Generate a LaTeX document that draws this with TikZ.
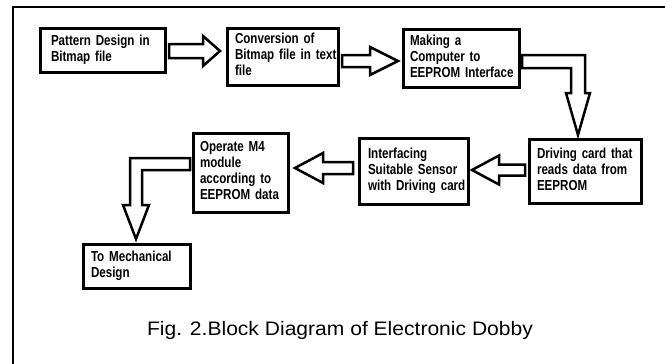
\documentclass[tikz,border=0pt]{standalone}
\usepackage{fontspec}
\setmainfont{Liberation Sans}
\newfontfamily\boxfont[FakeStretch=0.80]{Liberation Sans}
\newfontfamily\capfont[FakeStretch=1.08]{Liberation Sans}
\usetikzlibrary{calc}
\newcommand\rarr[8]{% from, to, ycenter, gapstart, gaptip, shafthalf, headhalf, headlen
  \draw[blk] let \p1=(#1.east),\p2=(#2.west) in
    (\x1+#4pt,{-#3pt+#6pt}) -- (\x2-#5pt-#8pt,{-#3pt+#6pt}) -- (\x2-#5pt-#8pt,{-#3pt+#7pt})
    -- (\x2-#5pt,-#3pt) -- (\x2-#5pt-#8pt,{-#3pt-#7pt}) -- (\x2-#5pt-#8pt,{-#3pt-#6pt})
    -- (\x1+#4pt,{-#3pt-#6pt}) -- cycle;}
\newcommand\larr[8]{% from, to, ycenter, gapstart, gaptip, shafthalf, headhalf, headlen
  \draw[blk] let \p1=(#1.west),\p2=(#2.east) in
    (\x1-#4pt,{-#3pt+#6pt}) -- (\x2+#5pt+#8pt,{-#3pt+#6pt}) -- (\x2+#5pt+#8pt,{-#3pt+#7pt})
    -- (\x2+#5pt,-#3pt) -- (\x2+#5pt+#8pt,{-#3pt-#7pt}) -- (\x2+#5pt+#8pt,{-#3pt-#6pt})
    -- (\x1-#4pt,{-#3pt-#6pt}) -- cycle;}
\newcommand\boxtext[1]{\begin{tabular}{@{}l@{}}#1\end{tabular}}
\begin{document}
\begin{tikzpicture}[x=1pt,y=-1pt,
  box/.style={draw, line width=3pt, outer sep=0pt, anchor=north west,
    font=\boxfont\bfseries\fontsize{14.5}{16}\selectfont, align=left,
    inner xsep=8pt, inner ysep=0pt},
  blk/.style={draw, line width=2.5pt, fill=white, line join=miter}]
\useasboundingbox (0,0) rectangle (665,364);
\fill[white] (0,0) rectangle (665,364);
\begin{scope}
\clip (0,0) rectangle (665,364);
\draw[line width=2pt] (13,7) rectangle (690,390);
\end{scope}
\node[box, inner xsep=11pt, text width=103pt, minimum height=44pt] (b1) at (40,28) {\boxtext{Pattern Design in\\Bitmap file}};
\node[box, text width=95pt, minimum height=57pt] (b2) at (227,28) {\boxtext{Conversion of\\Bitmap file in text\\file}};
\node[box, inner xsep=7pt, text width=102pt, minimum height=58pt] (b3) at (403,29) {\boxtext{Making a\\Computer to\\EEPROM Interface}};
\node[box, text width=96pt, minimum height=64pt] (b4) at (529,139) {\boxtext{Driving card that\\reads data from\\EEPROM}};
\node[box, inner xsep=9pt, text width=91pt, minimum height=66pt] (b5) at (359,138) {\boxtext{Interfacing\\Suitable Sensor\\with Driving card}};
\node[box, inner xsep=7pt, text width=81pt, minimum height=79pt] (b6) at (193,133) {\boxtext{Operate M4\\module\\according to\\EEPROM data}};
\node[box, text width=91pt, minimum height=44pt] (b7) at (83,244) {\boxtext{To Mechanical\\Design}};
\rarr{b1}{b2}{51}{4}{7}{7}{15}{17}
\rarr{b2}{b3}{61}{4}{5}{6}{14}{28}
\draw[blk] let \p1=(b3.east),\p2=(b4.north) in
  (\x1+3pt,-55pt) -- (585pt,-55pt) -- (585pt,-93pt) -- (590pt,-93pt) -- (578pt,\y2+4pt)
  -- (566pt,-93pt) -- (571pt,-93pt) -- (571pt,-68pt) -- (\x1+3pt,-68pt) -- cycle;
\larr{b4}{b5}{170}{4}{4}{5.5}{14.5}{27}
\larr{b5}{b6}{168}{6}{7}{6}{15}{28}
\draw[blk] let \p1=(b6.west),\p2=(b7.north) in
  (\x1-3pt,-158pt) -- (130pt,-158pt) -- (130pt,-205pt) -- (123pt,-205pt) -- (136pt,\y2+5pt)
  -- (149pt,-205pt) -- (142pt,-205pt) -- (142pt,-170pt) -- (\x1-3pt,-170pt) -- cycle;
\node[font=\capfont\fontsize{19.5}{22}\selectfont, inner sep=0pt, anchor=base] (cap) at (340,335) {Fig. 2.Block Diagram of Electronic Dobby};
\end{tikzpicture}
\end{document}
